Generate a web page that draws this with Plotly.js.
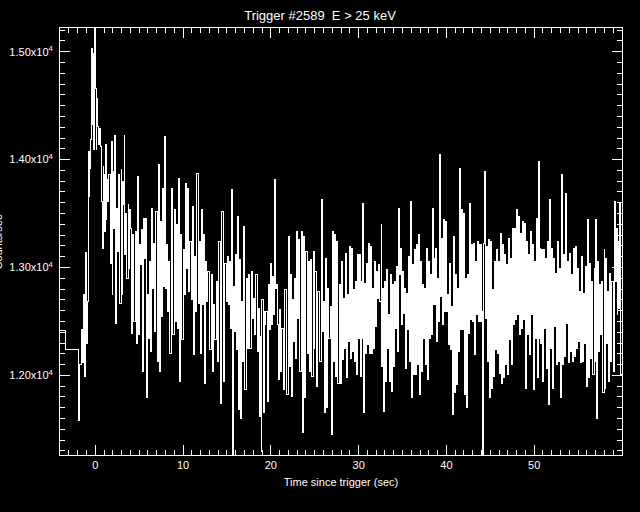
<!DOCTYPE html>
<html>
<head>
<meta charset="utf-8">
<script src="https://cdn.plot.ly/plotly-3.0.1.min.js"></script>
<style>
html,body{margin:0;padding:0;background:#000;}
#chart{width:640px;height:512px;}
#chart .scatterlayer path, #chart .xtick, #chart .ytick, #chart path.xtick, #chart path.ytick, #chart .crisp{shape-rendering:crispEdges;}
</style>
</head>
<body>
<div id="chart"></div>
<script>
// Pre-trigger (coarse) bins: start time (s) and counts
const preTime = [-4.3, -3.43];
const preCounts = [12414, 12244];

// Fine bins after -1.96 s: each entry is a pair of consecutive bins
const segTime = [
-1.96,-1.62,-1.36,-1.13,-0.87,-0.75,-0.64,-0.45,-0.30,-0.19,
0.08,0.19,0.42,0.64,0.83,0.94,1.17,1.32,1.55,1.81,
2.00,2.19,2.45,2.68,2.94,3.09,3.28,3.43,3.74,3.89,
4.08,4.26,4.53,4.83,5.09,5.28,5.47,5.74,5.92,6.15,
6.45,6.60,6.91,7.17,7.47,7.70,7.85,8.11,8.34,8.68,
8.98,9.21,9.47,9.70,10.00,10.23,10.49,10.75,11.06,11.32,
11.58,11.85,12.08,12.34,12.57,12.83,13.21,13.47,13.77,14.08,
14.38,14.72,15.06,15.28,15.55,15.70,15.96,16.23,16.45,16.68,
16.91,17.17,17.43,17.74,18.04,18.30,18.57,18.79,18.98,19.25,
19.43,19.70,19.92,20.23,20.45,20.64,20.83,21.02,21.25,21.58,
21.96,22.19,22.45,22.68,22.91,23.13,23.47,23.77,24.00,24.26,
24.53,24.83,25.02,25.32,25.74,25.96,26.23,26.45,26.75,26.98,
27.21,27.47,
27.79,28.02,28.29,28.48,28.71,28.94,29.16,29.39,29.62,29.85,
30.08,30.30,30.49,30.72,30.91,31.14,31.37,31.60,31.83,32.02,
32.24,32.55,32.74,32.97,33.19,33.42,33.65,33.88,34.07,34.30,
34.52,34.72,34.98,35.25,35.40,35.63,35.86,36.08,36.31,36.54,
36.77,36.99,37.22,37.45,37.68,37.91,38.14,38.37,38.59,38.78,
39.01,39.20,39.43,39.66,39.89,40.11,40.34,40.57,40.80,41.03,
41.26,41.48,41.71,41.94,42.17,42.40,42.59,42.85,43.04,43.27,
43.50,43.73,43.95,44.15,44.33,44.56,44.79,44.98,45.25,45.48,
45.67,45.93,46.16,46.39,46.62,46.84,47.07,47.30,47.53,47.76,
47.99,48.21,48.44,48.67,48.90,49.13,49.35,49.58,49.77,50.00,
50.23,50.46,50.65,50.87,51.10,51.33,51.56,51.79,52.02,52.24,
52.47,52.70,52.93,53.16,53.38,53.61,53.84,54.07,54.30,54.52,
54.75,54.98,55.21,55.44,55.67,55.89,56.12,56.35,56.58,56.81,
57.03,57.26,57.49,57.72,57.95,58.17,58.40,58.63,58.86,59.09,
59.32,59.54,59.77
];
const countsA = [
11581,12423,12747,13142,12685,13658,13920,15031,14321,14090,
14661,14568,14136,14120,13179,13858,14136,13812,13858,14167,
13889,14228,13550,13858,13904,13796,14228,13503,13580,13534,
13179,13303,13334,13843,13210,13349,13457,13457,12747,13056,
13550,13226,13519,13951,13426,13735,14213,13210,13056,13735,
13534,13395,13827,13303,13164,13781,13735,13241,13565,13102,
13874,13241,13534,13303,13056,12963,12932,12655,12871,13241,
13519,13040,13102,13056,13719,12824,13118,13472,13071,12685,
13380,12902,12932,12963,12716,12932,12624,12361,12701,12593,
12593,12840,13040,12917,13812,12840,12238,12608,12439,12794,
13287,12932,12701,12902,13334,13256,13334,13287,13148,13056,
13071,13148,12963,12778,13627,12685,13087,12809,12639,13334,
13303,13241,
12840,13056,12716,13133,12747,13195,13179,12794,12871,13118,
13118,12871,13596,12855,13040,13226,13195,12809,13056,12963,
13025,13395,12809,12871,12979,12562,12932,12840,12871,13010,
13550,13179,12963,12809,12763,13102,13611,13025,13164,13210,
13303,13056,12840,12809,13179,13056,12932,13550,13087,13179,
12902,14043,13272,13442,13426,12747,13040,12639,13287,12932,
12809,13920,13534,13503,12902,12932,13596,13210,13226,13056,
13241,13210,13210,11266,13889,13195,13256,13241,12794,13056,
13164,13056,13318,13210,13118,13025,13272,13087,13364,13364,
13534,13472,13318,13426,13411,13241,13118,13334,13210,13056,
13457,13982,13179,13164,13164,13087,13241,13627,13179,13087,
12948,13241,12994,13858,13118,13688,13056,13133,12932,13179,
13195,12994,12778,13102,12763,13010,13442,13040,12871,12994,
13442,13056,12840,12871,13164,13087,12778,12948,12871,13611,
13364,13241,13596
];
const countsB = [
12099,12115,11991,12300,14074,14074,14182,14599,14985,15216,
14090,14306,14291,13611,13935,13334,13442,13611,13040,12747,
13364,12485,13148,12670,12747,13580,13118,12902,12994,13364,
12392,12500,12300,12377,13025,12037,13087,11791,12346,12223,
12809,12408,12130,12037,12547,12824,12809,12593,12207,12377,
12500,12439,11945,12331,12747,12994,12778,12701,12192,12593,
12670,12207,12655,11929,12685,12238,12037,12331,12130,11744,
11945,12685,12655,12439,11266,12408,12238,11683,11605,12130,
11868,12253,12253,12531,12377,12223,11621,11297,11652,12469,
11760,12423,12469,12562,12809,12469,11960,12037,11868,11821,
12084,11806,12315,12161,12531,12037,11467,11791,12207,12037,
11991,12253,11898,12130,12408,11652,11698,12346,11451,12130,
11991,11929,
11929,12145,12253,11976,12315,12161,12223,12130,12007,12346,
11991,12346,11652,12207,12284,12207,12207,12253,12454,12716,
12685,12084,11667,11945,12253,11945,11852,12084,12439,12223,
12932,12469,12577,12068,12423,12130,11791,12007,12007,12099,
11821,12037,12346,12099,11960,12346,12377,12655,12655,12315,
12500,12732,12469,12593,12593,12284,12238,11636,11837,11914,
12223,12423,12423,11821,11698,12392,12516,12500,12192,12562,
12500,12500,12593,13226,12531,12130,11791,11883,11991,12238,
12207,12022,11929,11976,12099,12007,12331,12099,12469,12516,
12562,12377,12439,12516,11883,12377,12192,12562,11868,12346,
11976,12346,12300,11945,12439,12068,11729,12253,11883,12454,
12099,12130,11791,12099,12176,12485,12115,12223,12130,12176,
12253,12315,12115,12130,12300,11898,11976,12161,12007,12130,
11605,12223,12377,11837,11883,12300,11945,12130,12037,12871,
12562,12624,12007
];

const tEnd = 60.0;
const xRange = [-4.02, 60.0];
const yRange = [11262, 15220];
const yTickVals = [12000, 13000, 14000, 15000];
const yTickText = ['1.20x10<sup>4</sup>', '1.30x10<sup>4</sup>', '1.40x10<sup>4</sup>', '1.50x10<sup>4</sup>'];
const xTickVals = [0, 10, 20, 30, 40, 50];

// Build step series
const xs = [], ys = [];
for (let i = 0; i < preTime.length; i++) { xs.push(preTime[i]); ys.push(preCounts[i]); }
for (let i = 0; i < segTime.length; i++) {
  const t0 = segTime[i];
  const t1 = (i + 1 < segTime.length) ? segTime[i + 1] : tEnd;
  xs.push(t0); ys.push(countsA[i]);
  xs.push((t0 + t1) / 2); ys.push(countsB[i]);
}
xs.push(tEnd); ys.push(countsB[countsB.length - 1]);

const fontFam = '"Liberation Sans", Arial, sans-serif';
const axisCommon = {
  showgrid: false, zeroline: false,
  showline: true, linecolor: '#fff', linewidth: 1, mirror: 'allticks',
  ticks: 'inside', ticklen: 10, tickwidth: 1, tickcolor: '#fff',
  tickfont: {family: fontFam, size: 11, color: '#fff'},
  minor: {ticks: 'inside', ticklen: 5, tickwidth: 1, tickcolor: '#fff', showgrid: false}
};

const layout = {
  width: 640, height: 512,
  paper_bgcolor: '#000', plot_bgcolor: '#000',
  margin: {l: 60, r: 18, t: 28, b: 57},
  showlegend: false,
  title: {text: 'Trigger #2589  E > 25 keV', font: {family: fontFam, size: 13, color: '#fff'}, x: 0.5, xanchor: 'center', y: 0.97, yanchor: 'middle', yref: 'container'},
  xaxis: Object.assign({}, axisCommon, {
    range: xRange, tickmode: 'array', tickvals: xTickVals,
    minor: Object.assign({}, axisCommon.minor, {dtick: 1, tick0: 0}),
    title: {text: 'Time since trigger (sec)', font: {family: fontFam, size: 11, color: '#fff'}, standoff: 8}
  }),
  yaxis: Object.assign({}, axisCommon, {
    range: yRange, tickmode: 'array', tickvals: yTickVals, ticktext: yTickText,
    minor: Object.assign({}, axisCommon.minor, {dtick: 100, tick0: 0}),
    ticklabelstandoff: 4
  }),
  annotations: [{
    text: 'Counts/sec', textangle: -90, showarrow: false,
    xref: 'paper', yref: 'paper', x: -0.112, y: 0.5, xanchor: 'center', yanchor: 'middle',
    font: {family: fontFam, size: 11, color: '#fff'}
  }]
};

Plotly.newPlot('chart', [{
  type: 'scatter', mode: 'lines', x: xs, y: ys,
  line: {color: '#fff', width: 1, shape: 'hv'},
  hoverinfo: 'skip'
}], layout, {staticPlot: true, displayModeBar: false});
</script>
</body>
</html>
